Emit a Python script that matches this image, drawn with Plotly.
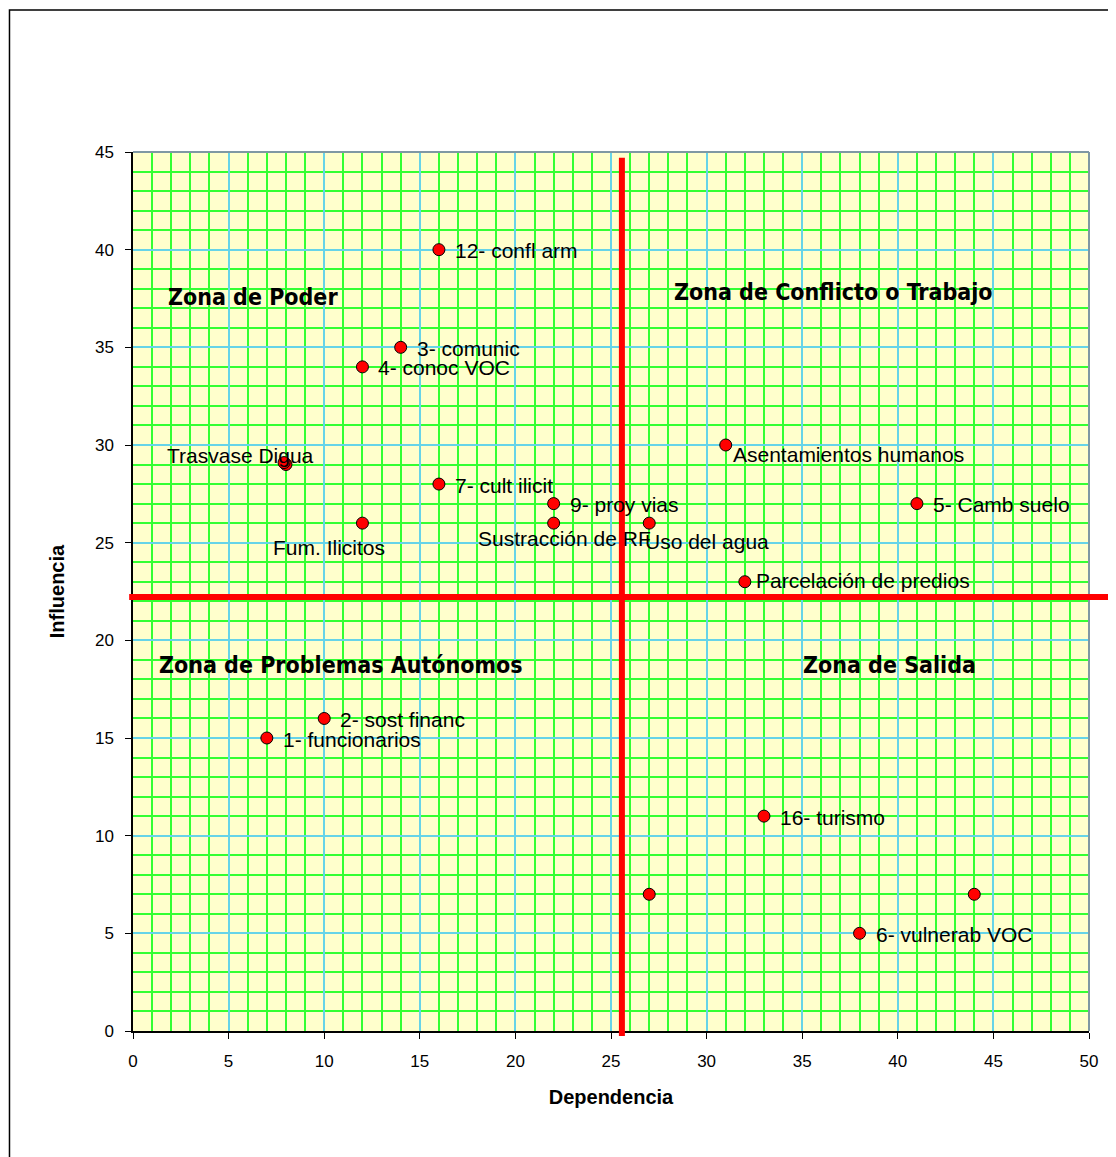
import plotly.graph_objects as go

# ---- data ----
labels = ["12- confl arm", "3- comunic", "4- conoc VOC", "Trasvase Digua", "Trasvase Digua (2)",
          "7- cult ilicit", "Fum. Ilicitos", "9- proy vias", "Sustracción de RF", "Uso del agua",
          "Asentamientos humanos", "5- Camb suelo", "Parcelación de predios",
          "2- sost financ", "1- funcionarios", "16- turismo", "", "", "6- vulnerab VOC"]
dependencia = [16, 14, 12, 8, 7.9, 16, 12, 22, 22, 27, 31, 41, 32, 10, 7, 33, 27, 44, 38]
influencia = [40, 35, 34, 29, 29.1, 28, 26, 27, 26, 26, 30, 27, 23, 16, 15, 11, 7, 7, 5]

x_tick_vals = list(range(0, 51, 5))
y_tick_vals = list(range(0, 46, 5))
x_range = [0, 50]
y_range = [0, 45]

cut_dependencia = 25.57
cut_influencia = 22.22

zone_titles = ["Zona de Poder", "Zona de Conflicto o Trabajo",
               "Zona de Problemas Autónomos", "Zona de Salida"]
zone_x = [6.28, 36.66, 10.88, 39.54]
zone_y = [37.6, 37.84, 18.74, 18.74]

# label placement (style): (xanchor, xshift, yshift)
label_style = {
    "Trasvase Digua": ("center", -45, 9),
    "Fum. Ilicitos": ("center", -33, -24),
    "Sustracción de RF": ("center", 11, -15),
    "Uso del agua": ("left", -6, -18),
    "Asentamientos humanos": ("left", 5, -9),
    "Parcelación de predios": ("left", 9, 1),
}

fig = go.Figure()

fig.add_trace(go.Scatter(
    x=dependencia, y=influencia, mode="markers",
    marker=dict(size=12, color="#FF0000", line=dict(color="#000000", width=1)),
    hoverinfo="text", text=labels, showlegend=False, cliponaxis=False,
))

label_font = dict(family="Liberation Sans, Arial, sans-serif", size=21, color="#000000")
annotations = []
for lab, xv, yv in zip(labels, dependencia, influencia):
    if not lab or lab.endswith("(2)"):
        continue
    xa, xs, ys = label_style.get(lab, ("left", 14, -1))
    annotations.append(dict(x=xv, y=yv, xref="x", yref="y", text=lab, showarrow=False,
                            xanchor=xa, yanchor="middle", xshift=xs, yshift=ys,
                            font=label_font))

zone_font = dict(family="Liberation Sans Narrow, Arial Narrow, DejaVu Sans Condensed, sans-serif",
                 size=23, color="#000000")
for t, zx, zy in zip(zone_titles, zone_x, zone_y):
    annotations.append(dict(x=zx, y=zy, xref="x", yref="y", text="<b>" + t + "</b>",
                            showarrow=False, xanchor="center", yanchor="middle", font=zone_font))


def ypaper(v):
    return (v - y_range[0]) / (y_range[1] - y_range[0])


shapes = [
    # top and right plot borders (gray)
    dict(type="line", xref="paper", yref="paper", x0=0, x1=1, y0=1, y1=1,
         line=dict(color="#7F98A3", width=2), layer="above"),
    dict(type="line", xref="paper", yref="paper", x0=1, x1=1, y0=0, y1=1,
         line=dict(color="#7F98A3", width=2), layer="above"),
    # red quadrant lines
    dict(type="line", xref="x", yref="paper", x0=cut_dependencia, x1=cut_dependencia,
         y0=ypaper(-0.25), y1=ypaper(44.7), line=dict(color="#FF0000", width=6), layer="above"),
    dict(type="line", xref="paper", yref="y", x0=-0.004, x1=1.1,
         y0=cut_influencia, y1=cut_influencia, line=dict(color="#FF0000", width=6), layer="above"),
    # outer chart border
    dict(type="rect", xref="paper", yref="paper", x0=-0.1292, x1=1.3, y0=-0.3, y1=1.1616,
         line=dict(color="#000000", width=1.5), fillcolor="rgba(0,0,0,0)", layer="below"),
]

tick_font = dict(family="Liberation Sans, Arial, sans-serif", size=17, color="#000000")
title_font = dict(family="Liberation Sans, Arial, sans-serif", size=20, color="#000000")

fig.update_layout(
    width=1116, height=1157,
    margin=dict(l=125, r=35, t=144, b=134),
    paper_bgcolor="#FFFFFF", plot_bgcolor="#FFFFCC",
    annotations=annotations, shapes=shapes,
    xaxis=dict(range=x_range, tickmode="array", tickvals=x_tick_vals,
               ticks="outside", ticklen=6, tickcolor="#000000", tickwidth=1,
               showline=True, linecolor="#000000", linewidth=1.5,
               showgrid=True, gridcolor="#66D4E8", gridwidth=1.6,
               minor=dict(dtick=1, showgrid=True, gridcolor="#33FF33", gridwidth=1.6, ticks=""),
               zeroline=False, tickfont=tick_font, ticklabelstandoff=8,
               title=dict(text="<b>Dependencia</b>", font=title_font, standoff=20)),
    yaxis=dict(range=y_range, tickmode="array", tickvals=y_tick_vals,
               ticks="outside", ticklen=6, tickcolor="#000000", tickwidth=1,
               showline=True, linecolor="#000000", linewidth=1.5,
               showgrid=True, gridcolor="#66D4E8", gridwidth=1.6,
               minor=dict(dtick=1, showgrid=True, gridcolor="#33FF33", gridwidth=1.6, ticks=""),
               zeroline=False, tickfont=tick_font, ticklabelstandoff=8,
               title=dict(text="<b>Influencia</b>", font=title_font, standoff=25)),
)

fig.write_html("out.html")
